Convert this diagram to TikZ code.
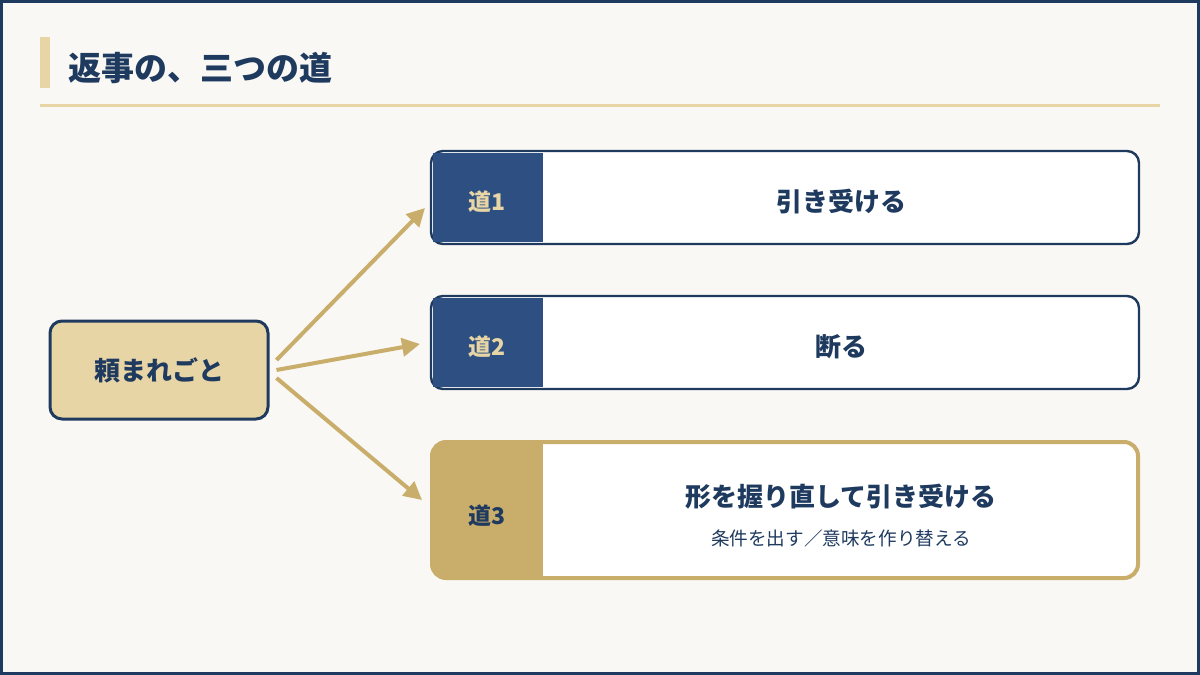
\documentclass[tikz,border=0pt]{standalone}
\usepackage{fontspec}
\setmainfont{Noto Sans CJK JP}
\usetikzlibrary{arrows.meta}
\definecolor{navy}{HTML}{1F3A5F}
\definecolor{tabblue}{HTML}{2E4F82}
\definecolor{lgold}{HTML}{E8D5A6}
\definecolor{gold}{HTML}{C9AD6A}
\definecolor{bg}{HTML}{FAF8F4}
\begin{document}
\begin{tikzpicture}[x=0.5pt,y=-0.5pt,
 card/.style={draw=navy,line width=1.2pt,rounded corners=6pt,fill=white},
 arr/.style={draw=gold,line width=2pt,-{Triangle[length=9pt,width=9pt]}},
 lbl/.style={text=navy,font=\bfseries\fontsize{13}{15}\selectfont}]
\useasboundingbox (0,0) rectangle (1200,675);
\fill[bg] (0,0) rectangle (1200,675);
\draw[navy,line width=1.5pt] (1.5,1.5) rectangle (1198.5,673.5);
\fill[lgold] (40,37) rectangle (50,88);
\node[anchor=west,inner sep=0pt,text=navy,font=\bfseries\fontsize{16.5}{19}\selectfont] (title) at (68,68) {返事の、三つの道};
\draw[lgold,line width=1.5pt] (40,105) -- (1160,105);
% left node
\node[draw=navy,line width=1.5pt,fill=lgold,rounded corners=6pt,minimum width=109pt,minimum height=49pt,lbl] (src) at (159,370) {頼まれごと};
% box 1
\draw[card] (431,151) rectangle (1139,244);
\fill[tabblue] (433,153) rectangle (543,242);
\node[text=lgold,font=\bfseries\fontsize{11.5}{13}\selectfont] (t1) at (487,202) {道1};
\node[lbl] (b1) at (841,202) {引き受ける};
\coordinate (e1) at (425,208);
% box 2
\draw[card] (431,296) rectangle (1139,389);
\fill[tabblue] (433,298) rectangle (543,387);
\node[text=lgold,font=\bfseries\fontsize{11.5}{13}\selectfont] (t2) at (487,347) {道2};
\node[lbl] (b2) at (841,347) {断る};
\coordinate (e2) at (420,344);
% box 3
\draw[draw=gold,line width=2pt,rounded corners=7pt,fill=white] (432,442) rectangle (1138,578);
\begin{scope}
\clip[rounded corners=7pt] (432,442) rectangle (1138,578);
\fill[gold] (430,440) rectangle (543,580);
\end{scope}
\node[text=navy,font=\bfseries\fontsize{11.5}{13}\selectfont] (t3) at (487,516) {道3};
\node[lbl] (b3) at (841,497) {形を握り直して引き受ける};
\node[text=navy,font=\fontsize{9.3}{11}\selectfont] (s3) at (841,538) {条件を出す／意味を作り替える};
\coordinate (e3) at (422,500);
% arrows
\draw[arr] (src.east) ++(7,-10) -- (e1);
\draw[arr] (src.east) ++(7,0) -- (e2);
\draw[arr] (src.east) ++(7,8) -- (e3);
\end{tikzpicture}
\end{document}
